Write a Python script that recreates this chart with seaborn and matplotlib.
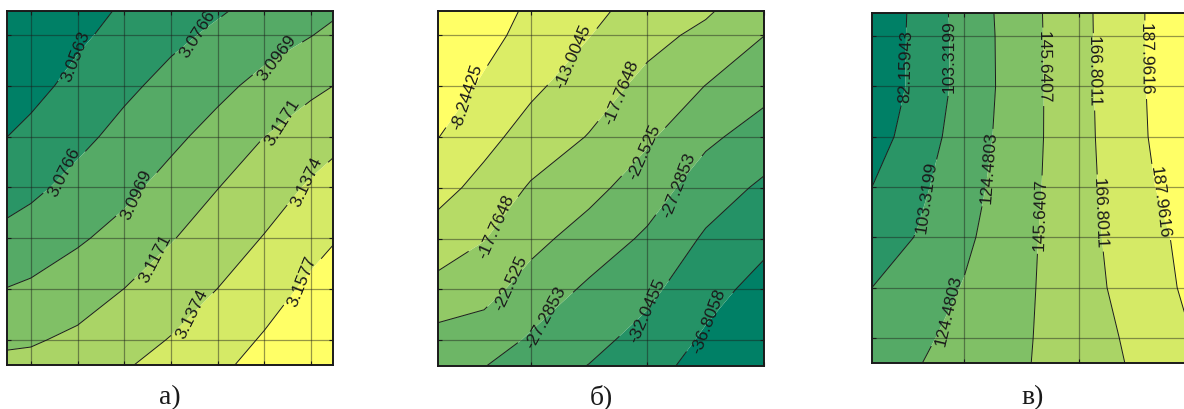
import numpy as np
import matplotlib
matplotlib.use("Agg")
import matplotlib.pyplot as plt
import seaborn as sns

# ---- panel а) ----
a_x = [-0.5, 0, 1, 2, 3, 4, 5, 6, 6.5]
a_y = [-0.5, 0, 1, 2, 3, 4, 5, 6, 6.5]
a_z = [
    [3.1220, 3.1224, 3.1277, 3.1358, 3.1439, 3.1536, 3.1650, 3.1784, 3.1855],
    [3.1139, 3.1151, 3.1210, 3.1297, 3.1384, 3.1484, 3.1597, 3.1729, 3.1798],
    [3.0975, 3.1001, 3.1076, 3.1173, 3.1273, 3.1376, 3.1492, 3.1618, 3.1682],
    [3.0819, 3.0855, 3.0944, 3.1036, 3.1159, 3.1271, 3.1384, 3.1508, 3.1565],
    [3.0687, 3.0725, 3.0825, 3.0920, 3.1038, 3.1167, 3.1279, 3.1399, 3.1451],
    [3.0563, 3.0614, 3.0717, 3.0823, 3.0924, 3.1040, 3.1171, 3.1271, 3.1324],
    [3.0447, 3.0502, 3.0622, 3.0727, 3.0823, 3.0918, 3.1027, 3.1131, 3.1173],
    [3.0334, 3.0395, 3.0527, 3.0628, 3.0723, 3.0800, 3.0883, 3.0963, 3.1015],
    [3.0277, 3.0381, 3.0480, 3.0587, 3.0669, 3.0744, 3.0821, 3.0879, 3.0938],
]
a_levels = [3.0563, 3.0766, 3.0969, 3.1171, 3.1374, 3.1577]

# ---- panel б) ----
b_x = [-0.8, -0.4, 0, 0.5, 1, 1.5, 2.0]
b_y = [-0.5, 0, 1, 2, 3, 4, 5, 6, 6.5]
b_z = [
    [-26.81, -27.10, -29.90, -32.14, -34.90, -38.76, -42.52],
    [-24.19, -24.86, -27.90, -30.76, -33.62, -37.52, -41.14],
    [-19.29, -20.95, -24.38, -28.09, -30.95, -35.09, -38.42],
    [-15.00, -17.57, -21.15, -24.52, -28.05, -32.66, -35.66],
    [-11.39, -14.48, -18.24, -21.10, -24.95, -29.67, -32.86],
    [-8.10, -11.62, -14.86, -18.00, -21.81, -26.33, -29.38],
    [-5.10, -9.01, -12.10, -15.43, -19.05, -22.62, -25.81],
    [-2.44, -6.44, -10.15, -12.86, -16.34, -18.86, -22.48],
    [-1.06, -5.25, -9.24, -11.67, -15.10, -17.10, -20.81],
]
b_levels = [-36.8058, -32.0455, -27.2853, -22.525, -17.7648, -13.0045, -8.24425]

# ---- panel в) ----
c_x = [-0.8, -0.4, 0, 0.5, 1, 1.5, 2.0]
c_y = [-0.5, 0, 1, 2, 3, 4, 5, 6, 6.46]
c_z = [
    [114.96, 123.63, 132.52, 143.53, 156.01, 169.55, 186.27],
    [110.73, 120.67, 130.62, 142.89, 156.43, 171.25, 188.60],
    [103.32, 114.32, 125.54, 141.41, 158.34, 175.69, 193.04],
    [91.05, 104.59, 120.46, 139.93, 159.61, 177.81, 195.16],
    [82.16, 98.88, 116.23, 138.02, 159.82, 181.19, 202.14],
    [72.21, 92.95, 112.63, 136.54, 160.24, 183.31, 206.37],
    [65.87, 88.30, 110.30, 136.12, 160.67, 184.15, 207.22],
    [65.44, 88.08, 110.30, 136.54, 160.88, 184.58, 207.85],
    [63.75, 88.08, 111.15, 136.75, 161.09, 184.58, 207.85],
]
c_levels = [82.15943, 103.3199, 124.4803, 145.6407, 166.8011, 187.9616]

panel_titles = ["а)", "б)", "в)"]

# label anchor points (data coordinates) for the contour annotations
a_label_pos = [(1.05, 5.51), (3.58, 6.0), (0.77, 3.25), (5.27, 5.55), (2.23, 2.89),
               (5.40, 4.25), (2.70, 1.57), (5.91, 3.09), (3.25, 0.69), (5.85, 1.12)]
b_label_pos = [(-0.54, 4.78), (0.36, 5.57), (0.79, 4.86), (-0.29, 2.22), (0.97, 3.70),
               (-0.14, 1.04), (1.29, 3.01), (0.16, 0.36), (0.99, 0.59), (1.53, 0.36)]
c_label_pos = [(-0.50, 5.39), (-0.12, 5.59), (-0.31, 2.78), (0.22, 3.38), (-0.10, 0.50),
               (0.69, 5.39), (0.66, 2.45), (1.14, 5.29), (1.17, 2.48), (1.57, 5.53),
               (1.68, 2.68)]

sns.set_theme(style="white")
plt.rcParams["font.family"] = ["Liberation Sans", "DejaVu Sans"]
plt.rcParams["axes.unicode_minus"] = False

summer = sns.color_palette("summer", as_cmap=True)

W, H = 1184, 409
fig = plt.figure(figsize=(W / 100, H / 100), dpi=100)
fig.patch.set_facecolor("white")


def px_axes(left, top, right, bottom):
    return fig.add_axes([left / W, 1 - bottom / H, (right - left) / W, (bottom - top) / H])


def level_text(v):
    return "{:.7g}".format(v)


def steepen(labels, factor=2.0):
    # labels lean more steeply than the lines they sit on
    for t in labels:
        r = np.radians(t.get_rotation())
        ang = np.degrees(np.arctan2(np.sin(r) * factor, np.cos(r)))
        if ang > 90:
            ang -= 180
        elif ang < -90:
            ang += 180
        t.set_rotation(ang)


def draw_panel(ax, xs, ys, zs, levels, xlim, ylim, xticks, yticks, label_pos):
    X, Y = np.meshgrid(xs, ys)
    Z = np.array(zs)
    bounds = [Z.min() - 1.0] + list(levels) + [Z.max() + 1.0]
    n = len(bounds) - 1
    colors = [summer(i / (n - 1)) for i in range(n)]
    ax.contourf(X, Y, Z, levels=bounds, colors=colors, antialiased=True)
    cs = ax.contour(X, Y, Z, levels=levels, colors="k", linewidths=0.7,
                    linestyles="solid")
    labels = ax.clabel(cs, fmt=level_text, manual=label_pos, inline=True,
                       inline_spacing=3, fontsize=12.5, colors="k")
    steepen(labels)
    ax.set_xlim(*xlim)
    ax.set_ylim(*ylim)
    ax.set_xticks(xticks)
    ax.set_yticks(yticks)
    ax.set_axisbelow(False)
    ax.grid(True, color="k", alpha=0.45, linewidth=0.9, linestyle="-")
    ax.tick_params(direction="in", length=3, width=0.8, color="k",
                   top=True, bottom=True, left=True, right=True,
                   labelbottom=False, labelleft=False)
    for sp in ax.spines.values():
        sp.set_color("k")
        sp.set_linewidth(1.4)


ax_a = px_axes(7, 11, 333, 365)
draw_panel(ax_a, a_x, a_y, a_z, a_levels, (-0.51, 6.47), (-0.49, 6.47),
           range(0, 7), range(0, 7), a_label_pos)

ax_b = px_axes(438, 11, 764, 366)
draw_panel(ax_b, b_x, b_y, b_z, b_levels, (-0.795, 1.99), (-0.51, 6.48),
           [0, 1, 2], range(0, 7), b_label_pos)

ax_c = px_axes(872, 13, 1194, 363)
draw_panel(ax_c, c_x, c_y, c_z, c_levels, (-0.8, 2.0), (-0.5, 6.46),
           [0, 1, 2], range(0, 7), c_label_pos)

for ax, title in zip([ax_a, ax_b, ax_c], panel_titles):
    box = ax.get_position()
    fig.text(box.x0 + box.width / 2, 1 - 404 / H, title, ha="center", va="baseline",
             fontsize=20, family=["Liberation Serif", "DejaVu Serif"], color="k")

fig.savefig("out.png", dpi=100, facecolor="white")
